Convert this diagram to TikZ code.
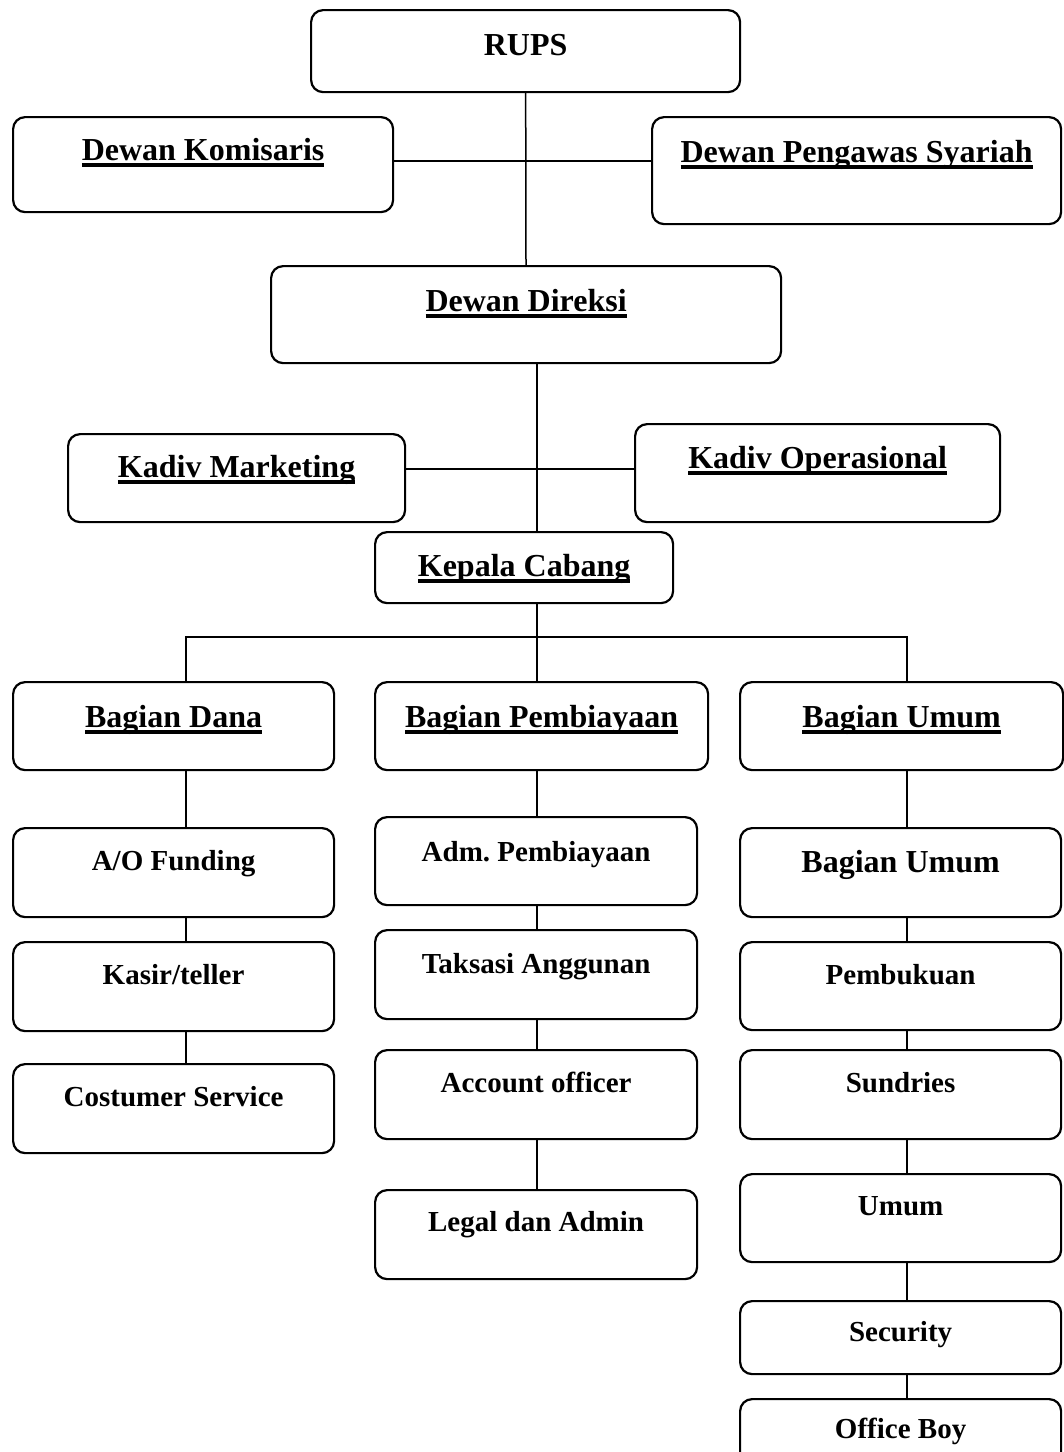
\documentclass[tikz,border=0pt]{standalone}
\usepackage{fontspec}
\setmainfont{Liberation Serif}
\frenchspacing
\newcommand{\headfont}{\fontsize{32}{38}\selectfont\bfseries}
\newcommand{\itemfont}{\fontsize{29}{35}\selectfont\bfseries}
\newcommand{\ulabel}[1]{\setbox0=\hbox{#1}\rlap{\vrule width \wd0 height -3pt depth 6.5pt}\box0}
\tikzset{
	orgbox/.style 2 args={draw, line width=2.2pt, rounded corners=12pt, anchor=north west, inner sep=0pt, text height=#1pt, text depth=#2pt},
	link/.style={line width=1.5pt}
}

\begin{document}
\begin{tikzpicture}[x=1pt, y=-1pt]
		%%%%% START %%%%%
		\useasboundingbox (0, 0) rectangle (1064, 1452);
		\clip (0, 0) rectangle (1064, 1452);
		
		\coordinate (cross) at (525, 161);
		\coordinate (kadiv) at (537, 469);
		\coordinate (bus) at (537, 637);
		\coordinate (c1) at (186, 0);
		\coordinate (spine) at (537, 0);
		\coordinate (c3) at (907, 0);
		
		\node[orgbox={45}{37}, minimum width=429pt, font=\headfont] (rups) at (310, 9) {RUPS};
		\node[orgbox={43}{52}, minimum width=380pt, font=\headfont] (komisaris) at (12, 116) {\ulabel{Dewan Komisaris}};
		\node[orgbox={45}{62}, minimum width=409pt, font=\headfont] (pengawas) at (651, 116) {\ulabel{Dewan Pengawas Syariah}};
		\node[orgbox={45}{52}, minimum width=510pt, font=\headfont] (direksi) at (270, 265) {\ulabel{Dewan Direksi}};
		
		\node[orgbox={43}{45}, minimum width=337pt, font=\headfont] (kmarketing) at (67, 433) {\ulabel{Kadiv Marketing}};
		\node[orgbox={44}{54}, minimum width=365pt, font=\headfont] (koperasional) at (634, 423) {\ulabel{Kadiv Operasional}};
		\node[orgbox={44}{27}, minimum width=298pt, font=\headfont] (kcabang) at (374, 531) {\ulabel{Kepala Cabang}};
		
		\node[orgbox={45}{43}, minimum width=321pt, font=\headfont] (bdana) at (12, 681) {\ulabel{Bagian Dana}};
		\node[orgbox={45}{43}, minimum width=333pt, font=\headfont] (bpembiayaan) at (374, 681) {\ulabel{Bagian Pembiayaan}};
		\node[orgbox={45}{43}, minimum width=323pt, font=\headfont] (bumum) at (739, 681) {\ulabel{Bagian Umum}};
		
		\node[orgbox={42}{47}, minimum width=321pt, font=\itemfont] (aofunding) at (12, 827) {A/O Funding};
		\node[orgbox={42}{47}, minimum width=321pt, font=\itemfont] (kasir) at (12, 941) {Kasir/teller};
		\node[orgbox={42}{47}, minimum width=321pt, font=\itemfont] (costumer) at (12, 1063) {Costumer Service};
		
		\node[orgbox={44}{44}, minimum width=322pt, font=\itemfont] (adm) at (374, 816) {Adm. Pembiayaan};
		\node[orgbox={43}{46}, minimum width=322pt, font=\itemfont] (taksasi) at (374, 929) {Taksasi Anggunan};
		\node[orgbox={42}{47}, minimum width=322pt, font=\itemfont] (account) at (374, 1049) {Account officer};
		\node[orgbox={41}{48}, minimum width=322pt, font=\itemfont] (legal) at (374, 1189) {Legal dan Admin};
		
		\node[orgbox={44}{45}, minimum width=321pt, font=\headfont] (bumumdua) at (739, 827) {Bagian Umum};
		\node[orgbox={42}{46}, minimum width=321pt, font=\itemfont] (pembukuan) at (739, 941) {Pembukuan};
		\node[orgbox={42}{47}, minimum width=321pt, font=\itemfont] (sundries) at (739, 1049) {Sundries};
		\node[orgbox={41}{47}, minimum width=321pt, font=\itemfont] (umum) at (739, 1173) {Umum};
		\node[orgbox={40}{33}, minimum width=321pt, font=\itemfont] (security) at (739, 1300) {Security};
		\node[orgbox={39}{40}, minimum width=321pt, font=\itemfont] (officeboy) at (739, 1398) {Office Boy};
		
		\draw[link] (rups) -- (direksi);
		\draw[link] (komisaris.east |- cross) -- (pengawas.west |- cross);
		\draw[link] (direksi.south -| spine) -- (kcabang.north -| spine);
		\draw[link] (kmarketing.east |- kadiv) -- (koperasional.west |- kadiv);
		\draw[link] (kcabang.south -| spine) -- (bpembiayaan.north -| spine);
		\draw[link] (bdana.north -| c1) |- (bus) -| (bumum.north -| c3);
		
		\foreach \a/\b/\c in {bdana/aofunding/c1, aofunding/kasir/c1, kasir/costumer/c1,
			bpembiayaan/adm/spine, adm/taksasi/spine, taksasi/account/spine, account/legal/spine,
			bumum/bumumdua/c3, bumumdua/pembukuan/c3, pembukuan/sundries/c3,
			sundries/umum/c3, umum/security/c3, security/officeboy/c3}
			\draw[link] (\a.south -| \c) -- (\b.north -| \c);
		
		%%%%% END %%%%%
	\end{tikzpicture}
\end{document}
